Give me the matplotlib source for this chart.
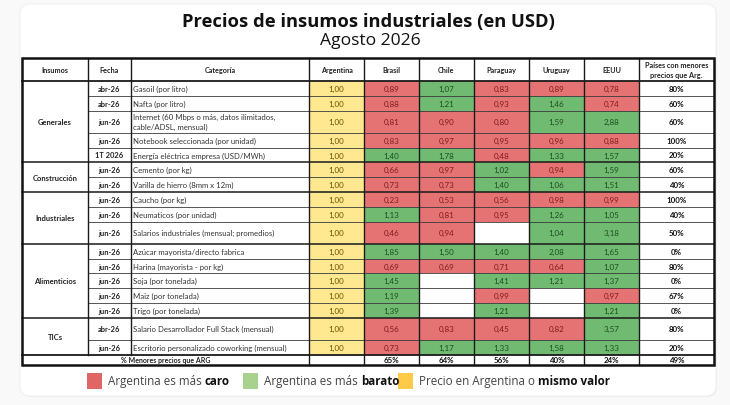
import matplotlib
matplotlib.use("Agg")
import matplotlib.pyplot as plt
from matplotlib.patches import Rectangle, FancyBboxPatch

# ---------------- data ----------------
groups = ["Generales", "Construcción", "Industriales", "Alimenticios", "TICs"]
group_sizes = [5, 2, 3, 5, 2]
fechas = ["abr-26", "abr-26", "jun-26", "jun-26", "1T 2026",
          "jun-26", "jun-26",
          "jun-26", "jun-26", "jun-26",
          "jun-26", "jun-26", "jun-26", "jun-26", "jun-26",
          "abr-26", "jun-26"]
categorias = ["Gasoil (por litro)", "Nafta (por litro)",
              "Internet (60 Mbps o más, datos ilimitados,\ncable/ADSL, mensual)",
              "Notebook seleccionada (por unidad)",
              "Energía eléctrica empresa (USD/MWh)",
              "Cemento (por kg)", "Varilla de hierro (8mm x 12m)",
              "Caucho (por kg)", "Neumaticos (por unidad)",
              "Salarios industriales (mensual; promedios)",
              "Azúcar mayorista/directo fabrica", "Harina (mayorista - por kg)",
              "Soja (por tonelada)", "Maiz (por tonelada)", "Trigo (por tonelada)",
              "Salario Desarrollador Full Stack (mensual)",
              "Escritorio personalizado coworking (mensual)"]
tall_rows = [2, 9, 15]
paises = ["Argentina", "Brasil", "Chile", "Paraguay", "Uruguay", "EEUU"]
argentina = [1.00] * 17
brasil = [0.89, 0.88, 0.81, 0.83, 1.40, 0.66, 0.73, 0.23, 1.13, 0.46, 1.85, 0.69, 1.45, 1.19, 1.39, 0.56, 0.73]
chile = [1.07, 1.21, 0.90, 0.97, 1.78, 0.97, 0.73, 0.53, 0.81, 0.94, 1.50, 0.69, None, None, None, 0.83, 1.17]
paraguay = [0.83, 0.93, 0.80, 0.95, 0.48, 1.02, 1.40, 0.56, 0.95, None, 1.40, 0.71, 1.41, 0.99, 1.21, 0.45, 1.33]
uruguay = [0.89, 1.46, 1.59, 0.96, 1.33, 0.94, 1.06, 0.98, 1.26, 1.04, 2.08, 0.64, 1.21, None, None, 0.82, 1.58]
eeuu = [0.78, 0.74, 2.88, 0.88, 1.57, 1.59, 1.51, 0.99, 1.05, 3.18, 1.65, 1.07, 1.37, 0.97, 1.21, 3.57, 1.33]
pct_paises = [80, 60, 60, 100, 20, 60, 40, 100, 40, 50, 0, 80, 0, 67, 0, 80, 20]
pct_menores = [65, 64, 56, 40, 24, 49]   # Brasil, Chile, Paraguay, Uruguay, EEUU, total
headers = ["Insumos", "Fecha", "Categoría"] + paises + ["Países con menores\nprecios que Arg."]
title = "Precios de insumos industriales (en USD)"
subtitle = "Agosto 2026"
legend_items = [("Argentina es más ", "caro", "#E06666"),
                ("Argentina es más ", "barato", "#A9D18E"),
                ("Precio en Argentina o ", "mismo valor", "#FFC94A")]

# ---------------- style ----------------
RED, RED_T = "#E57373", "#7F1D1D"
GREEN, GREEN_T = "#70BA72", "#1D4F1F"
YELLOW, YELLOW_T = "#FFE88F", "#6B5200"
TFONT = "Lato"

fig = plt.figure(figsize=(7.3, 4.06), dpi=100)
fig.patch.set_facecolor("#F9F9F9")
ax = fig.add_axes([0, 0, 1, 1])
ax.set_xlim(0, 730)
ax.set_ylim(406, 0)
ax.axis("off")

# card
ax.add_patch(FancyBboxPatch((21, 6), 696, 392, boxstyle="round,pad=0,rounding_size=10",
                            facecolor="#EFEFEF", edgecolor="none", zorder=0))
ax.add_patch(FancyBboxPatch((20, 5), 696, 392, boxstyle="round,pad=0,rounding_size=10",
                            facecolor="white", edgecolor="#EDEDED", lw=0.6, zorder=0))

ax.text(368, 22, title, ha="center", va="center", fontsize=13.2,
        fontweight="bold", family="Open Sans", color="#111111")
ax.text(370, 41, subtitle, ha="center", va="center", fontsize=12.6,
        family="Open Sans", color="#111111")

# geometry
col_w = [66, 43, 178, 55, 55, 55, 55, 55, 55, 75]
x0 = 22
col_x = [x0]
for w in col_w:
    col_x.append(col_x[-1] + w)
unit = 14.8
y_top = 59
head_h = 23
row_h = [unit * (1.5 if i in tall_rows else 1.0) for i in range(17)]
row_y = [y_top + head_h]
for h in row_h:
    row_y.append(row_y[-1] + h)
sum_h = 9.8
y_bot = row_y[-1] + sum_h

# header
for j, h in enumerate(headers):
    cx = (col_x[j] + col_x[j + 1]) / 2
    ax.text(cx, y_top + head_h / 2, h, ha="center", va="center", fontsize=5.2,
            fontweight="bold", family=TFONT, color="#222222", linespacing=1.5)

series = [argentina, brasil, chile, paraguay, uruguay, eeuu]

def fmt(v):
    return f"{v:.2f}".replace(".", ",")

for i in range(17):
    yc = (row_y[i] + row_y[i + 1]) / 2
    ax.text((col_x[1] + col_x[2]) / 2, yc, fechas[i], ha="center", va="center",
            fontsize=5.4, fontweight="bold", family=TFONT, color="#222222")
    ax.text(col_x[2] + 2, yc, categorias[i], ha="left", va="center",
            fontsize=5.6, family=TFONT, color="#333333", linespacing=1.5)
    for k, s in enumerate(series):
        v = s[i]
        j = 3 + k
        if v is None:
            continue
        if k == 0:
            fc, tc = YELLOW, YELLOW_T
        elif v < 1:
            fc, tc = RED, RED_T
        elif v > 1:
            fc, tc = GREEN, GREEN_T
        else:
            fc, tc = YELLOW, YELLOW_T
        ax.add_patch(Rectangle((col_x[j], row_y[i]), col_w[j], row_h[i],
                               facecolor=fc, edgecolor="none", zorder=1))
        ax.text(col_x[j] + col_w[j] / 2, yc, fmt(v), ha="center", va="center",
                fontsize=5.8, family=TFONT, color=tc, zorder=3)
    ax.text((col_x[9] + col_x[10]) / 2, yc, f"{pct_paises[i]}%", ha="center",
            va="center", fontsize=5.7, fontweight="bold", family=TFONT,
            color="#111111")

# groups
start = 0
group_bounds = []
for g, n in zip(groups, group_sizes):
    ya, yb = row_y[start], row_y[start + n]
    ax.text((col_x[0] + col_x[1]) / 2, (ya + yb) / 2, g, ha="center", va="center",
            fontsize=5.5, fontweight="bold", family=TFONT, color="#222222")
    group_bounds.append(yb)
    start += n

# summary row
ys = row_y[-1] + sum_h / 2
ax.text((col_x[0] + col_x[3]) / 2, ys, "% Menores precios que ARG", ha="center",
        va="center", fontsize=5.0, fontweight="bold", family=TFONT, color="#222222")
for k, p in enumerate(pct_menores):
    j = 4 + k
    ax.text((col_x[j] + col_x[j + 1]) / 2, ys, f"{p}%", ha="center", va="center",
            fontsize=5.7, fontweight="bold", family=TFONT, color="#111111")

# lines
LC = "#1a1a1a"
for i in range(1, 17):
    y = row_y[i]
    if y in group_bounds:
        ax.plot([col_x[0], col_x[-1]], [y, y], color=LC, lw=1.1, zorder=4)
    else:
        ax.plot([col_x[1], col_x[-1]], [y, y], color="#3a3a3a", lw=0.6, zorder=4)
ax.plot([col_x[0], col_x[-1]], [row_y[0], row_y[0]], color=LC, lw=1.3, zorder=4)
ax.plot([col_x[0], col_x[-1]], [row_y[-1], row_y[-1]], color=LC, lw=1.3, zorder=4)
for j in range(1, 10):
    if j in (1, 2):
        ya, yb = y_top, row_y[-1]
    else:
        ya, yb = y_top, y_bot
    ax.plot([col_x[j], col_x[j]], [ya, yb], color=LC, lw=1.0, zorder=4)
ax.add_patch(Rectangle((col_x[0], y_top), col_x[-1] - col_x[0], y_bot - y_top,
                       facecolor="none", edgecolor="#111111", lw=1.8, zorder=5))

# legend
lx = [87, 243, 398]
for (reg, bold, c), x in zip(legend_items, lx):
    ax.add_patch(Rectangle((x, 374), 15, 16, facecolor=c, edgecolor="none"))
    t = ax.text(x + 21, 382, reg, ha="left", va="center", fontsize=8.4,
                family="Open Sans", color="#444444")
    ax.annotate(bold, xy=(1, 0), xycoords=t, ha="left", va="bottom",
                fontsize=8.4, family="Open Sans", fontweight="bold", color="#111111")

fig.savefig("out.png", dpi=100, facecolor=fig.get_facecolor())
